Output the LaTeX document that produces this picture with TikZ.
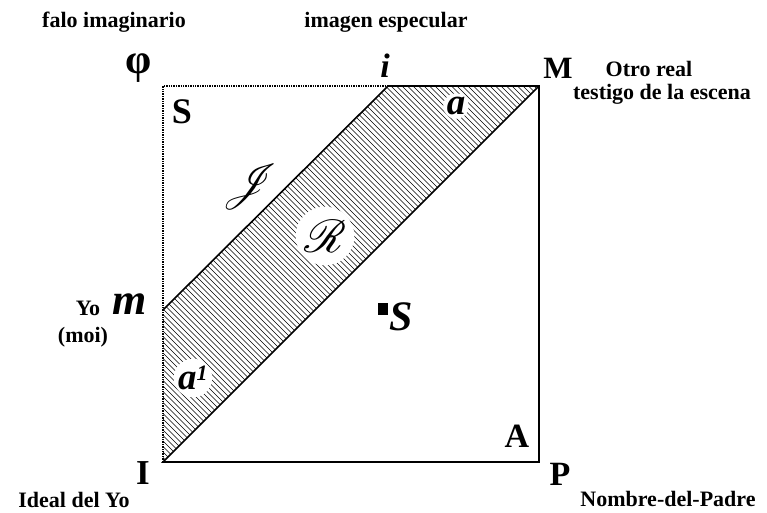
\documentclass[tikz,border=0pt]{standalone}
\usepackage{fontspec}
\setmainfont{Liberation Serif}
\usepackage{graphicx}
\usepackage{mathrsfs}

\tikzset{
  etiqueta/.style={font=\bfseries\fontsize{22}{24}\selectfont, inner sep=0pt},
  letra/.style={font=\bfseries\fontsize{33}{35}\selectfont, inner sep=0pt},
  letrait/.style={font=\bfseries\itshape\fontsize{37}{39}\selectfont, inner sep=0pt},
  halo/.style={fill=white, circle, inner sep=1pt},
  borde/.style={line width=1.6pt, line join=miter},
  punteado/.style={line width=1.3pt, dash pattern=on 1.4pt off 1pt},
  raya/.style={line width=0.4pt},
}
\newcommand{\caligr}[2]{\scalebox{#1}{$\mathscr{#2}$}}

\begin{document}
\begin{tikzpicture}[x=1pt, y=-1pt]
    \useasboundingbox (0,0) rectangle (767,513);

    % vértices del cuadrado
    \coordinate (I) at (163,462);
    \coordinate (P) at (539,462);
    \coordinate (M) at (539,86);
    \coordinate (S) at (163,86);
    \coordinate (i) at (388,86);
    \coordinate (m) at (163,310);

    % campo imaginario rayado
    \begin{scope}
        \clip (I) -- (m) -- (i) -- (M) -- cycle;
        \foreach \c in {-300,-294.5,...,456}
            \draw[raya] (\c,0) -- ++(513,513);
    \end{scope}

    % lados punteados
    \draw[punteado] (I) -- (S) -- (i);

    % lados y diagonales
    \draw[borde] (i) -- (M) -- (P) -- (I) -- (M);
    \draw[borde] (m) -- (i);

    % letras de los vértices
    \node[font=\bfseries\fontsize{42}{44}\selectfont, inner sep=0pt] (phi) at (139,68) {φ};
    \node[letrait, font=\bfseries\itshape\fontsize{34}{36}\selectfont] (ilet) at (385,66) {i};
    \node[letra, font=\bfseries\fontsize{31}{33}\selectfont] (Mlet) at (558,68) {M};
    \node[letra, font=\bfseries\fontsize{36}{38}\selectfont] (Slet) at (182,112) {S};
    \node[letrait, font=\bfseries\itshape\fontsize{44}{46}\selectfont] (mlet) at (130,304) {m};
    \node[letra, font=\bfseries\fontsize{35}{37}\selectfont] (Ilet) at (143,473) {I};
    \node[letra, font=\bfseries\fontsize{34}{36}\selectfont] (Alet) at (517,436) {A};
    \node[letra, font=\bfseries\fontsize{34}{36}\selectfont] (Plet) at (560,474) {P};

    % letras dentro de los campos
    \node[halo, letrait] (alet) at (456,106) {a};
    \node[halo, inner sep=2pt] (Rlet) at (325,236) {\caligr{4.6}{R}};
    \node[inner sep=0pt] (Jlet) at (250,187) {\caligr{4.6}{J}};
    \node[halo, letrait] (aplet) at (193,378) {a\textsuperscript{\fontsize{22}{22}\selectfont 1}};
    \node[fill=black, minimum width=10pt, minimum height=12pt, inner sep=0pt] (cuadro) at (383,309) {};
    \node[font=\bfseries\itshape\fontsize{42}{44}\selectfont, inner sep=0pt] (Ssuj) at (401,317) {S};

    % nombres
    \node[etiqueta] (falo) at (114,22) {falo imaginario};
    \node[etiqueta] (imagen) at (386,22) {imagen especular};
    \node[etiqueta] (otro) at (649,69) {Otro real};
    \node[etiqueta] (testigo) at (662,94) {testigo de la escena};
    \node[etiqueta] (yo) at (88,308) {Yo};
    \node[etiqueta] (moi) at (83,337) {(moi)};
    \node[etiqueta] (ideal) at (74,500) {Ideal del Yo};
    \node[etiqueta] (nombre) at (668,499) {Nombre-del-Padre};
\end{tikzpicture}
\end{document}
